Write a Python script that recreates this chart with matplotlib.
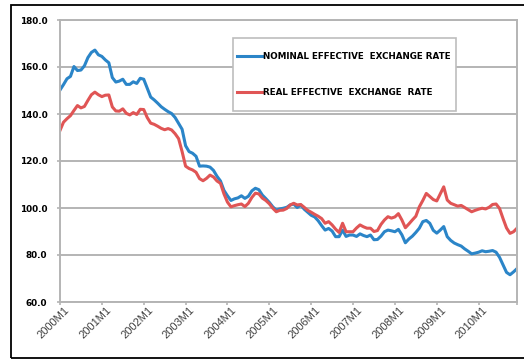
import matplotlib
matplotlib.use("Agg")
import matplotlib.pyplot as plt
from matplotlib.patches import Rectangle
from matplotlib.transforms import ScaledTranslation

# Monthly index values, 2000M1 .. 2010M12
nominal = [
    150.2, 152.5, 155.0, 156.0, 160.2, 158.5, 158.7, 160.5, 164.0, 166.2, 167.2, 165.2,
    164.5, 163.0, 161.8, 155.5, 153.6, 154.0, 154.8, 152.6, 152.6, 153.7, 153.0, 155.2,
    154.8, 151.0, 147.2, 146.0, 144.6, 143.1, 142.0, 141.0, 140.2, 138.5, 136.0, 133.5,
    126.5, 124.0, 123.3, 122.0, 117.8, 117.9, 117.8, 117.4, 116.0, 113.5, 111.5, 107.5,
    105.2, 103.2, 103.9, 104.3, 105.2, 104.1, 105.0, 107.3, 108.4, 107.8, 105.5, 104.0,
    102.4, 100.5, 99.1, 99.6, 99.9, 100.3, 101.3, 101.7, 100.2, 101.3, 99.5, 98.2,
    96.9, 96.2, 94.6, 92.5, 90.6, 91.3, 90.2, 87.8, 87.8, 90.6, 87.9, 88.5,
    88.5, 87.9, 89.0, 88.3, 87.8, 88.5, 86.5, 86.6, 88.0, 89.9, 90.6, 90.3,
    89.9, 90.9, 88.6, 85.2, 86.8, 88.0, 89.6, 91.4, 94.2, 94.7, 93.5, 90.5,
    89.3, 90.6, 92.1, 87.8, 86.2, 85.1, 84.4, 83.8, 82.6, 81.6, 80.5, 80.8,
    81.2, 81.8, 81.4, 81.6, 81.9, 81.2, 79.0, 75.8, 72.6, 71.6, 72.8, 74.2,
]

real = [
    133.0, 136.5, 138.0, 139.3, 141.5, 143.6, 142.6, 143.2, 145.8, 148.2, 149.3, 148.2,
    147.4, 148.0, 148.1, 143.0, 141.3, 141.2, 142.2, 140.3, 139.6, 140.6, 139.8, 142.0,
    141.9, 138.5, 136.1, 135.6, 134.8, 133.9, 133.3, 133.8, 133.2, 131.6, 129.5, 124.0,
    117.8, 116.8, 116.2, 115.2, 112.5, 111.6, 112.6, 114.0, 113.2, 111.5, 110.5, 106.0,
    102.5, 100.5, 101.0, 101.4, 101.7, 100.6, 102.0, 104.5, 106.3, 106.0, 104.2, 103.2,
    101.8, 99.9, 98.4, 99.0, 99.1, 99.8, 101.3, 102.0, 101.3, 101.5, 100.3, 99.0,
    98.2, 97.3, 96.5, 95.5, 93.5, 94.2, 92.8, 91.0, 89.6, 93.5, 89.9, 89.9,
    89.9, 91.5, 92.8, 92.0, 91.4, 91.4, 90.0, 90.4, 93.0, 94.9, 96.3, 95.7,
    96.2, 97.6, 94.9, 91.6, 93.2, 94.9, 96.5, 100.5, 103.2, 106.2, 104.9, 103.6,
    103.0, 106.0, 109.0, 103.4, 102.0, 101.4, 100.8, 101.1, 100.2, 99.3, 98.4, 99.0,
    99.5, 99.9, 99.6, 100.3, 101.5, 101.7, 99.8, 95.5, 91.5, 89.2, 89.9, 91.4,
]

years = list(range(2000, 2011))
months = [f"{y}M{m}" for y in years for m in range(1, 13)]
tick_labels = [f"{y}M1" for y in years]
y_ticks = [60, 80, 100, 120, 140, 160, 180]

W, H = 524, 360
fig = plt.figure(figsize=(W / 100, H / 100), dpi=100)
fig.patch.set_facecolor("white")

# outer chart frame
fig.patches.append(Rectangle((11 / W, 2 / H), 1.2, (358 - 5) / H,
                             transform=fig.transFigure, fill=False,
                             edgecolor="black", linewidth=1.3))

AX_L, AX_R, AX_T, AX_B = 60, 517, 20, 302
ax = fig.add_axes([AX_L / W, 1 - AX_B / H, (AX_R - AX_L) / W, (AX_B - AX_T) / H])


def ax_x(px):
    return (px - AX_L) / (AX_R - AX_L)


def ax_y(py):
    return 1 - (py - AX_T) / (AX_B - AX_T)


x = list(range(len(months)))
ax.plot(x, nominal, color="#2b85c8", linewidth=2.2,
        label="NOMINAL EFFECTIVE  EXCHANGE RATE", solid_joinstyle="round")
ax.plot(x, real, color="#e05555", linewidth=2.2,
        label="REAL EFFECTIVE  EXCHANGE  RATE", solid_joinstyle="round")

ax.set_xlim(0, len(months) - 1)
ax.set_ylim(60, 180)

grid_c = "#b4b4b4"
ax.grid(axis="y", color=grid_c, linewidth=1.4)
ax.set_axisbelow(True)
for s in ax.spines.values():
    s.set_color(grid_c)
    s.set_linewidth(1.4)
ax.tick_params(axis="both", colors=grid_c, length=2.5, width=1.2)
ax.tick_params(axis="y", labelcolor="black", pad=6.5)
ax.tick_params(axis="x", labelbottom=False)

ax.set_yticks(y_ticks)
ax.set_yticklabels([f"{v:.1f}" for v in y_ticks], fontfamily="DejaVu Sans",
                   fontweight="bold", fontsize=6.4)
year_ticks = list(range(0, len(months), 12))
ax.set_xticks(year_ticks + [len(months) - 1])

# slanted category labels under each year tick
lab_tr = ax.get_xaxis_transform() + ScaledTranslation(4 / 100, -3 / 100,
                                                      fig.dpi_scale_trans)
for pos, lab in zip(year_ticks, tick_labels):
    ax.text(pos, 0, lab, transform=lab_tr, rotation=45, ha="right", va="top",
            rotation_mode="anchor", fontsize=8, color="#404040",
            fontfamily=["Liberation Sans", "DejaVu Sans"], clip_on=False)

# legend box
ax.add_patch(Rectangle((ax_x(233), ax_y(111)), ax_x(456) - ax_x(233),
                       ax_y(38) - ax_y(111), transform=ax.transAxes,
                       facecolor="white", edgecolor="#bdbdbd", linewidth=1.2,
                       zorder=4))
leg = ax.legend(loc="center left", bbox_to_anchor=(ax_x(237), ax_y(74.5)),
                prop={"family": ["Liberation Sans Narrow", "DejaVu Sans"],
                      "weight": "bold", "size": 6.3},
                handlelength=2.85, handletextpad=0.1, labelspacing=3.1,
                borderpad=0, borderaxespad=0, frameon=False)
leg.set_zorder(5)

fig.savefig("out.png", dpi=100)
